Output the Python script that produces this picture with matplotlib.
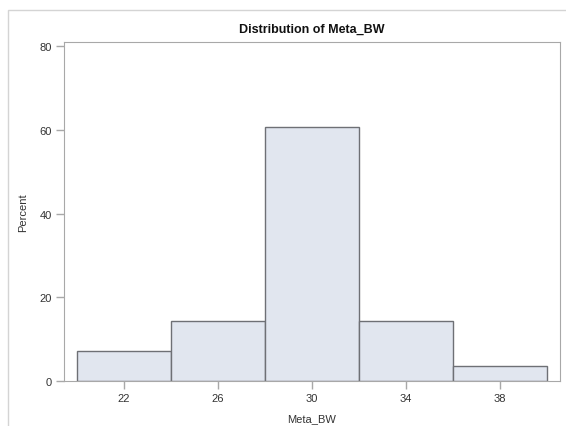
import matplotlib
matplotlib.use("Agg")
import matplotlib.pyplot as plt
from matplotlib.patches import Rectangle

plt.rcParams['font.family'] = ['Liberation Sans', 'DejaVu Sans']

# histogram bins of Meta_BW and percent per bin
bin_left = [20, 24, 28, 32, 36]
bin_width = 4
percent = [7.14, 14.29, 60.71, 14.29, 3.57]
x_ticks = [22, 26, 30, 34, 38]
y_ticks = [0, 20, 40, 60, 80]

fig = plt.figure(figsize=(5.66, 4.27), dpi=100)

# light outer frame like the SAS output
fig.patches.append(Rectangle((8 / 566, -0.1), 1.2, (427 - 11) / 427 + 0.1,
                             transform=fig.transFigure, fill=False,
                             edgecolor='#d4d4d4', linewidth=1))

ax = fig.add_axes([64 / 566, 45 / 427, 496 / 566, 339 / 427])
ax.bar(bin_left, percent, width=bin_width, align='edge',
       color='#e1e6ef', edgecolor='#6e7075', linewidth=1)

ax.set_xlim(19.45, 40.55)
ax.set_ylim(0, 81)
ax.set_xticks(x_ticks)
ax.set_yticks(y_ticks)
for s in ax.spines.values():
    s.set_color('#a8a8a8')
ax.tick_params(colors='#a8a8a8', labelcolor='#333333', labelsize=8,
               length=6, width=1, pad=3)

ax.set_xlabel('Meta_BW', fontsize=8, color='#333333', labelpad=7)
ax.set_ylabel('Percent', fontsize=8, color='#333333', labelpad=8)
ax.set_title('Distribution of Meta_BW', fontsize=9, fontweight='bold',
             color='#111111', pad=7)

fig.savefig('out.png', dpi=100)
